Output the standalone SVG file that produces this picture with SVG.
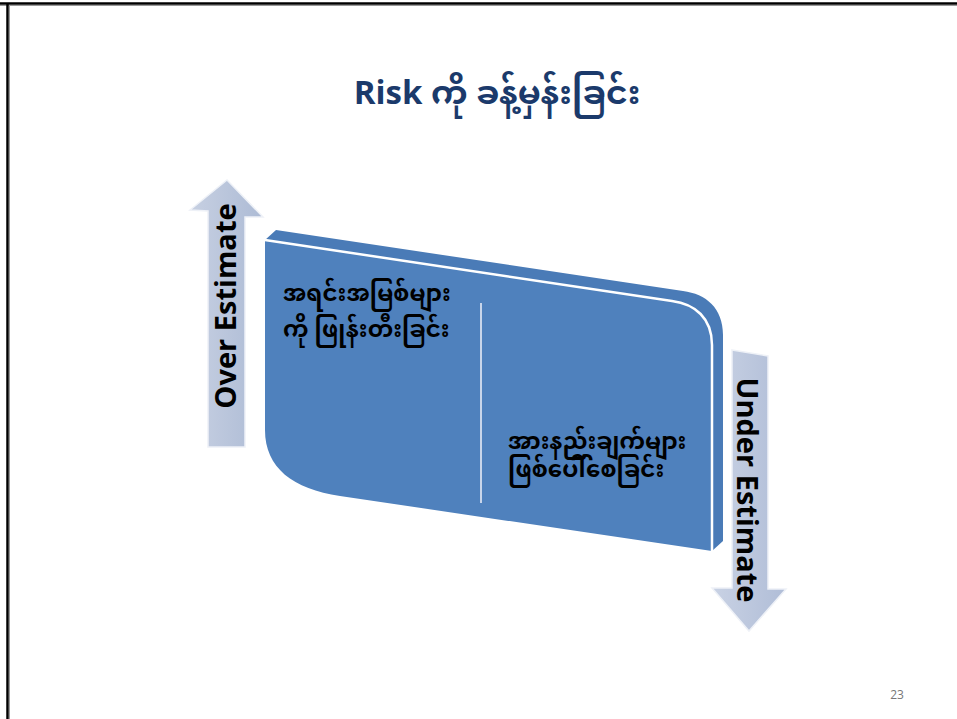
<svg xmlns="http://www.w3.org/2000/svg" width="957" height="719" viewBox="0 0 957 719">
<defs>
<linearGradient id="arrUp" x1="0" y1="0" x2="1" y2="0">
<stop offset="0" stop-color="#c7d0e2"/>
<stop offset="1" stop-color="#adbbd5"/>
</linearGradient>
<linearGradient id="arrDn" x1="0" y1="0" x2="1" y2="0">
<stop offset="0" stop-color="#c9d2e4"/>
<stop offset="1" stop-color="#b0bdd7"/>
</linearGradient>
</defs>
<style>
.title{font-family:"Noto Sans Myanmar","Padauk","Myanmar Text","Noto Sans",sans-serif;font-weight:bold;font-size:33px;fill:#1b3a6b}
.my{font-family:"Noto Sans Myanmar","Padauk","Myanmar Text","Noto Sans",sans-serif;font-size:23px;fill:#000;font-weight:bold}
.arrtxt{font-family:"Open Sans","Liberation Sans",sans-serif;font-weight:bold;font-size:29px;fill:#000}
.arrow{stroke:#eef1f7;stroke-width:1.5}
.side{fill:#4a7bb7}
.front{fill:#4f81bd}
.num{font-family:"Open Sans","Liberation Sans",sans-serif;font-size:12px;fill:#777}
</style>
<rect width="957" height="719" fill="#fff"/>
<line x1="0" y1="3.5" x2="957" y2="3.5" stroke="#000" stroke-width="2.5"/>
<line x1="0" y1="5.5" x2="957" y2="5.5" stroke="#999" stroke-width="1"/>
<line x1="7.5" y1="3" x2="7.5" y2="719" stroke="#000" stroke-width="2.5"/>
<line x1="9.5" y1="5" x2="9.5" y2="719" stroke="#999" stroke-width="1"/>

<g id="title">
<text class="title" x="497" y="104" text-anchor="middle">Risk ကို ခန့်မှန်းခြင်း</text>
</g>

<g id="over-arrow">
<polygon class="arrow" fill="url(#arrUp)" points="208,447 208,211 190,210 227,180 263,217 245,217 245,447"/>
<text class="arrtxt" x="236" y="306" text-anchor="middle" transform="rotate(-90 236 306)">Over Estimate</text>
</g>

<g id="under-arrow">
<polygon class="arrow" fill="url(#arrDn)" points="732,350 768,356 768,589 786,589 749,631 712,588 732,588"/>
<text class="arrtxt" x="737" y="490" text-anchor="middle" transform="rotate(90 737 490)">Under Estimate</text>
</g>

<g id="block">
<path class="side" d="M276,230 L683,291 C706,294 723,308 723,335 L723,541 L712,551 L265,270 L265,240 Z"/>
<path class="front" d="M265,240 L672,301 C695,304 712,318 712,345 L712,551 L340,496 C293,489 265,468 265,430 Z"/>
<path d="M265,240 L672,301 C695,304 712,318 712,345 L712,551" fill="none" stroke="#fff" stroke-width="2.5"/>
<line x1="481" y1="303" x2="481" y2="503" stroke="#c8d5ea" stroke-width="2"/>
</g>

<g id="left-text">
<text class="my" x="283" y="301">အရင်းအမြစ်များ</text>
<text class="my" x="283" y="337">ကို ဖြုန်းတီးခြင်း</text>
</g>

<g id="right-text">
<text class="my" x="508" y="449">အားနည်းချက်များ</text>
<text class="my" x="508" y="477">ဖြစ်ပေါ်စေခြင်း</text>
</g>

<text class="num" x="897" y="699" text-anchor="middle">23</text>
</svg>
